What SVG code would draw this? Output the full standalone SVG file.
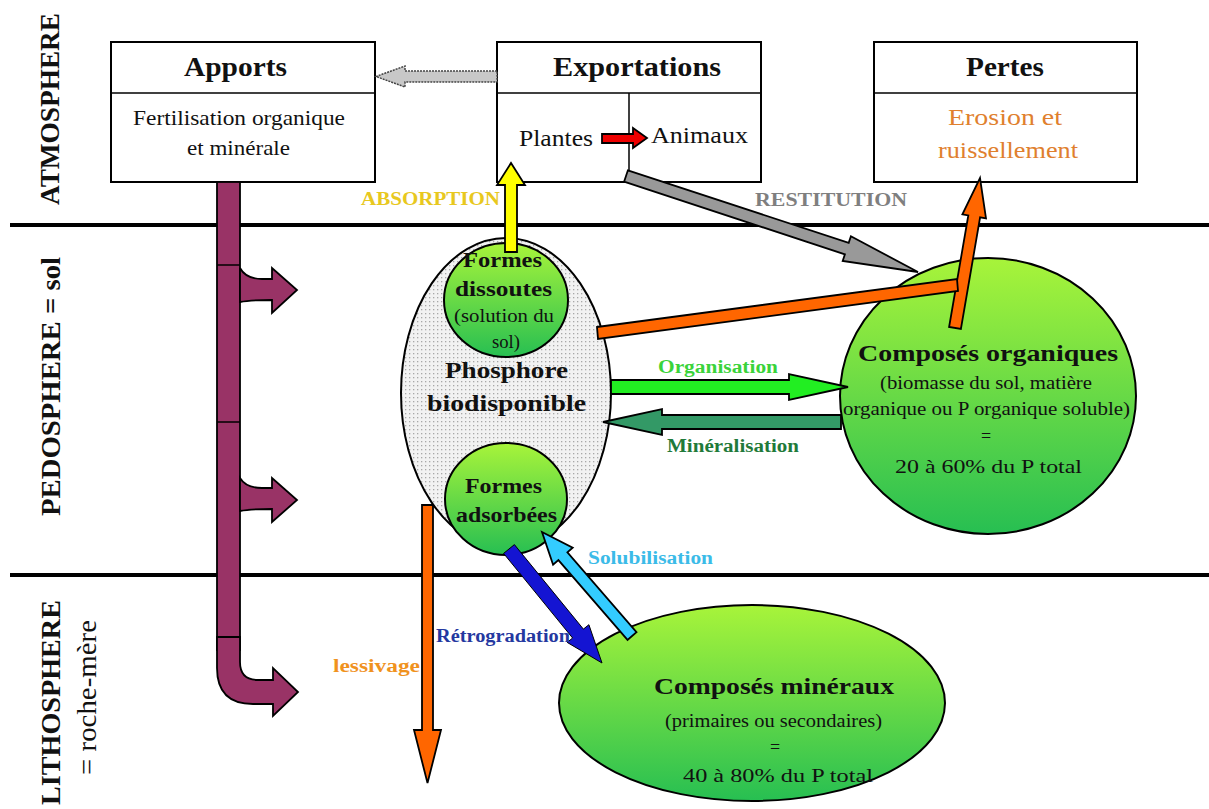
<svg xmlns="http://www.w3.org/2000/svg" width="1209" height="809" viewBox="0 0 1209 809">
<style>
text{font-family:'Liberation Serif','Times New Roman','DejaVu Serif',serif;fill:#111}
.b{font-weight:bold}
.box{fill:#fff;stroke:#000;stroke-width:2}
.sep{stroke:#000;stroke-width:4}
.ol{stroke:#000;stroke-width:1.8;stroke-linejoin:miter}
.thin{stroke:#000;stroke-width:1.5}
.green{fill:url(#gr);stroke:#000;stroke-width:2}
</style>
<defs>
<linearGradient id="gr" x1="0" y1="0" x2="0" y2="1">
<stop offset="0" stop-color="#a8f43a"/>
<stop offset="1" stop-color="#27bf52"/>
</linearGradient>
<pattern id="dots" width="4" height="4" patternUnits="userSpaceOnUse">
<rect width="4" height="4" fill="#f2f2f2"/>
<rect x="1" y="1" width="1.3" height="1.3" fill="#a8a8a8"/>
</pattern>
</defs>
<rect width="1209" height="809" fill="#fff"/>
<g font-family="'Liberation Serif','Times New Roman','DejaVu Serif',serif">

<g id="layers">
<line class="sep" x1="10" y1="225" x2="1209" y2="225"/>
<line class="sep" x1="10" y1="575" x2="1209" y2="575"/>
<text class="b" font-size="27" transform="translate(59,205) rotate(-90)" textLength="192" lengthAdjust="spacingAndGlyphs">ATMOSPHERE</text>
<text class="b" font-size="27" transform="translate(60,516) rotate(-90)" textLength="259" lengthAdjust="spacingAndGlyphs">PEDOSPHERE = sol</text>
<text class="b" font-size="27" transform="translate(60,805) rotate(-90)" textLength="205" lengthAdjust="spacingAndGlyphs">LITHOSPHERE</text>
<text font-size="27" transform="translate(96,775) rotate(-90)" textLength="155" lengthAdjust="spacingAndGlyphs">= roche-mère</text>
</g>

<g id="apports">
<rect class="box" x="111" y="42" width="264" height="140"/>
<line class="thin" x1="111" y1="93" x2="375" y2="93" stroke-width="2.5"/>
<text class="b" font-size="27" x="235.5" y="76" text-anchor="middle" textLength="103" lengthAdjust="spacingAndGlyphs">Apports</text>
<text font-size="21" x="239" y="125" text-anchor="middle" textLength="212" lengthAdjust="spacingAndGlyphs">Fertilisation organique</text>
<text font-size="21" x="238.5" y="155" text-anchor="middle" textLength="103" lengthAdjust="spacingAndGlyphs">et minérale</text>
</g>

<g id="exportations">
<rect class="box" x="497" y="42" width="264" height="140"/>
<line class="thin" x1="497" y1="93" x2="761" y2="93" stroke-width="2.5"/>
<line class="thin" x1="629" y1="93" x2="629" y2="182" stroke-width="2"/>
<text class="b" font-size="27" x="637" y="76" text-anchor="middle" textLength="168" lengthAdjust="spacingAndGlyphs">Exportations</text>
<text font-size="24" x="556" y="146" text-anchor="middle" textLength="74" lengthAdjust="spacingAndGlyphs">Plantes</text>
<text font-size="24" x="699.5" y="143" text-anchor="middle" textLength="97" lengthAdjust="spacingAndGlyphs">Animaux</text>
<polygon class="ol" fill="#ee0000" points="602,134 633,134 633,128 647,138 633,148 633,143 602,143"/>
</g>

<g id="pertes">
<rect class="box" x="874" y="42" width="263" height="140"/>
<line class="thin" x1="874" y1="93" x2="1137" y2="93" stroke-width="2.5"/>
<text class="b" font-size="27" x="1005" y="76" text-anchor="middle" textLength="78" lengthAdjust="spacingAndGlyphs">Pertes</text>
<text font-size="24" x="1005" y="125" text-anchor="middle" textLength="114" lengthAdjust="spacingAndGlyphs" style="fill:#e0802e">Erosion et</text>
<text font-size="24" x="1008" y="158" text-anchor="middle" textLength="140" lengthAdjust="spacingAndGlyphs" style="fill:#e0802e">ruissellement</text>
</g>

<g id="apports-flux">
<rect x="217" y="182" width="23" height="468" fill="#993366" class="ol"/>
<path class="ol" fill="#993366" d="M217,637 L217,668 Q217,704 253,704 L273,704 L273,716 L298,692 L273,668 L273,680 L258,680 Q240,680 240,662 L240,637 Z"/>
<line class="thin" x1="217" y1="265" x2="240" y2="265"/>
<line class="thin" x1="217" y1="422" x2="240" y2="422"/>
<line class="thin" x1="217" y1="637" x2="240" y2="637"/>
<path class="ol" fill="#993366" d="M240,268 Q246,279 262,279 L272,279 L272,268 L297,290 L272,313 L272,300 Q250,300 240,302 Z"/>
<path class="ol" fill="#993366" d="M240,478 Q246,488 262,488 L272,488 L272,478 L297,500 L272,522 L272,509 Q250,509 240,511 Z"/>
</g>

<g id="composes-organiques">
<ellipse class="green" cx="988" cy="396" rx="148" ry="138"/>
<text class="b" font-size="24" x="988" y="361" text-anchor="middle" textLength="260" lengthAdjust="spacingAndGlyphs">Composés organiques</text>
<text font-size="18" x="986" y="389" text-anchor="middle" textLength="212" lengthAdjust="spacingAndGlyphs">(biomasse du sol, matière</text>
<text font-size="18" x="986.5" y="415" text-anchor="middle" textLength="287" lengthAdjust="spacingAndGlyphs">organique ou P organique soluble)</text>
<text font-size="18" x="986" y="442" text-anchor="middle">=</text>
<text font-size="19" x="988.5" y="473" text-anchor="middle" textLength="187" lengthAdjust="spacingAndGlyphs">20 à 60% du P total</text>
</g>

<g id="composes-mineraux">
<ellipse class="green" cx="752" cy="703" rx="193" ry="98"/>
<text class="b" font-size="24" x="774" y="694" text-anchor="middle" textLength="240" lengthAdjust="spacingAndGlyphs">Composés minéraux</text>
<text font-size="18" x="773.5" y="727" text-anchor="middle" textLength="217" lengthAdjust="spacingAndGlyphs">(primaires ou secondaires)</text>
<text font-size="18" x="775" y="753" text-anchor="middle">=</text>
<text font-size="19" x="778" y="782" text-anchor="middle" textLength="190" lengthAdjust="spacingAndGlyphs">40 à 80% du P total</text>
</g>

<g id="phosphore-biodisponible">
<ellipse cx="506" cy="393" rx="105" ry="155" fill="url(#dots)" stroke="#000" stroke-width="2"/>
<text class="b" font-size="23" x="506.5" y="378" text-anchor="middle" textLength="123" lengthAdjust="spacingAndGlyphs">Phosphore</text>
<text class="b" font-size="23" x="506.5" y="411" text-anchor="middle" textLength="159" lengthAdjust="spacingAndGlyphs">biodisponible</text>
</g>

<g id="formes-dissoutes">
<ellipse class="green" cx="506" cy="300" rx="62" ry="57"/>
<text class="b" font-size="21" x="502.5" y="267" text-anchor="middle" textLength="79" lengthAdjust="spacingAndGlyphs">Formes</text>
<text class="b" font-size="21" x="503.5" y="296" text-anchor="middle" textLength="97" lengthAdjust="spacingAndGlyphs">dissoutes</text>
<text font-size="18" x="504" y="322" text-anchor="middle" textLength="100" lengthAdjust="spacingAndGlyphs">(solution du</text>
<text font-size="18" x="506" y="348" text-anchor="middle" textLength="28" lengthAdjust="spacingAndGlyphs">sol)</text>
</g>

<g id="formes-adsorbees">
<ellipse class="green" cx="506" cy="499" rx="61" ry="56"/>
<text class="b" font-size="21" x="503.5" y="493" text-anchor="middle" textLength="77" lengthAdjust="spacingAndGlyphs">Formes</text>
<text class="b" font-size="21" x="506.5" y="522" text-anchor="middle" textLength="101" lengthAdjust="spacingAndGlyphs">adsorbées</text>
</g>

<g id="connectors">
<polygon fill="#c8c8c8" stroke="#444" stroke-width="1.5" stroke-dasharray="2,1" points="497,71 405,71 405,66 376,76.5 405,87 405,82 497,82"/>
<polygon class="ol" fill="#ffff00" points="505,252 505,185 497,185 511,163 525,185 517,185 517,252"/>
<polygon class="ol" fill="#999999" points="627.9,170.3 848.7,242.9 850.9,236.3 918,272 842.7,260.9 844.9,254.3 624.1,181.7"/>
<polygon class="ol" fill="#ff6600" points="949.1,327 968.3,215.4 962.4,214.4 980,178 986,218.4 980.1,217.4 960.9,329"/>
<polygon class="ol" fill="#ff6600" points="597,327 957,279 958,291 598,339"/>
<polygon class="ol" fill="#22ee22" points="611,380 789,380 789,374 848,387 789,400 789,394 611,394"/>
<polygon class="ol" fill="#339966" points="841,415 662,415 662,409 603,422 662,435 662,429 841,429"/>
<polygon class="ol" fill="#ff6600" points="422,505 433,505 433,730 441,730 427.5,783 414,730 422,730"/>
<polygon fill="#1414d2" stroke="#000" stroke-width="1" points="514.4,544.6 583.4,629.1 588.9,624.7 602,663 567.2,642.4 572.6,638 503.6,553.4"/>
<polygon class="ol" fill="#33ccff" points="627.5,639.9 558.4,560.1 553.1,564.7 542,532 572.7,547.7 567.4,552.3 636.5,632.1"/>
<text class="b" font-size="18" x="430.5" y="205" text-anchor="middle" textLength="139" lengthAdjust="spacingAndGlyphs" style="fill:#e8c81e">ABSORPTION</text>
<text class="b" font-size="18" x="831" y="206" text-anchor="middle" textLength="152" lengthAdjust="spacingAndGlyphs" style="fill:#7f7f7f">RESTITUTION</text>
<text class="b" font-size="18" x="718" y="373" text-anchor="middle" textLength="120" lengthAdjust="spacingAndGlyphs" style="fill:#3ad33a">Organisation</text>
<text class="b" font-size="18" x="733" y="452" text-anchor="middle" textLength="132" lengthAdjust="spacingAndGlyphs" style="fill:#1f7a3a">Minéralisation</text>
<text class="b" font-size="18" x="650.5" y="564" text-anchor="middle" textLength="125" lengthAdjust="spacingAndGlyphs" style="fill:#3bbbe8">Solubilisation</text>
<text class="b" font-size="18" x="503" y="642" text-anchor="middle" textLength="134" lengthAdjust="spacingAndGlyphs" style="fill:#2438a0">Rétrogradation</text>
<text class="b" font-size="18" x="376.5" y="672" text-anchor="middle" textLength="87" lengthAdjust="spacingAndGlyphs" style="fill:#f0921e">lessivage</text>
</g>
</g>
</svg>
